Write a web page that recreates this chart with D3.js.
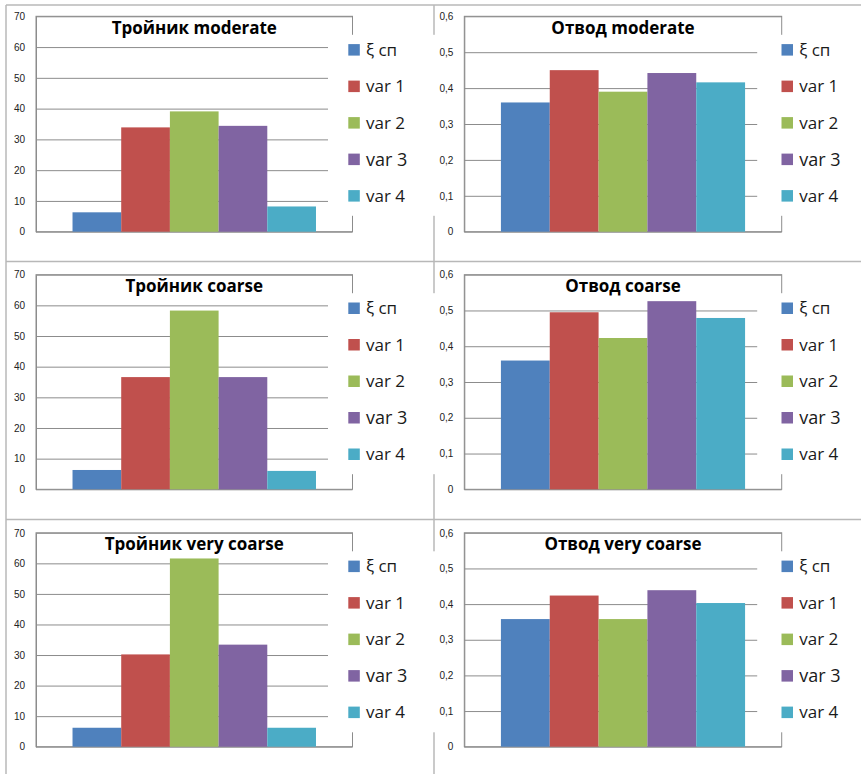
<!DOCTYPE html>
<html>
<head>
<meta charset="utf-8">
<script src="https://cdn.jsdelivr.net/npm/d3@7"></script>
<style>
  html, body { margin: 0; padding: 0; background: #fff; }
  svg { display: block; }
</style>
</head>
<body>
<svg id="chart" width="861" height="774"></svg>
<script>
// ---------- data ----------
const categories = ["ξ сп", "var 1", "var 2", "var 3", "var 4"];
const titles = ["Тройник moderate", "Отвод moderate", "Тройник coarse", "Отвод coarse", "Тройник very coarse", "Отвод very coarse"];
const teeModerate    = [6.3, 33.9, 39.1, 34.4, 8.2];
const bendModerate   = [0.36, 0.45, 0.39, 0.442, 0.416];
const teeCoarse      = [6.3, 36.6, 58.3, 36.6, 6.0];
const bendCoarse     = [0.36, 0.495, 0.423, 0.526, 0.479];
const teeVeryCoarse  = [6.2, 30.2, 61.6, 33.4, 6.2];
const bendVeryCoarse = [0.358, 0.424, 0.358, 0.439, 0.403];
const teeTicks  = [0, 10, 20, 30, 40, 50, 60, 70];
const bendTicks = [0, 0.1, 0.2, 0.3, 0.4, 0.5, 0.6];

// ---------- style ----------
const colors = ["#4F81BD", "#C0504D", "#9BBB59", "#8064A2", "#4BACC6"];
const gridColor = "#8c8c8c";
const frameColor = "#b8b8b8";

const svg = d3.select("#chart");

// cell frame lines
const frame = svg.append("g").attr("stroke", frameColor).attr("stroke-width", 1.5);
[[6, 5, 6, 774], [434, 5, 434, 774], [6, 5, 861, 5], [6, 261.5, 861, 261.5], [6, 519.5, 861, 519.5]]
  .forEach(([x1, y1, x2, y2]) => frame.append("line").attr("x1", x1).attr("y1", y1).attr("x2", x2).attr("y2", y2));

const rows = [{ top: 16.3, bottom: 231.7 }, { top: 274.7, bottom: 489.3 }, { top: 532.8, bottom: 746.7 }];
const cols = [
  { left: 36, right: 352.5, legendX: 348.3, max: 70, ticks: teeTicks, fmt: d => String(d) },
  { left: 464.3, right: 781.7, legendX: 781.5, max: 0.6, ticks: bendTicks, fmt: d => d === 0 ? "0" : d3.format(".1f")(d).replace(".", ",") }
];
const panels = [
  { r: 0, c: 0, values: teeModerate,   title: titles[0] },
  { r: 0, c: 1, values: bendModerate,  title: titles[1] },
  { r: 1, c: 0, values: teeCoarse,     title: titles[2] },
  { r: 1, c: 1, values: bendCoarse,    title: titles[3] },
  { r: 2, c: 0, values: teeVeryCoarse, title: titles[4] },
  { r: 2, c: 1, values: bendVeryCoarse, title: titles[5] }
];

panels.forEach(p => {
  const row = rows[p.r], col = cols[p.c];
  const w = col.right - col.left, h = row.bottom - row.top;
  const g = svg.append("g").attr("transform", `translate(${col.left},${row.top})`);

  const y = d3.scaleLinear().domain([0, col.max]).range([h, 0]);
  const gap = 1.5 / 11.5;
  const x0 = d3.scaleBand().domain(["g"]).range([0, w]).paddingInner(gap).paddingOuter(gap);
  const x1 = d3.scaleBand().domain(categories).range([x0("g"), x0("g") + x0.bandwidth()]).padding(0);

  // plot area border
  g.append("rect").attr("x", 0).attr("y", 0).attr("width", w).attr("height", h)
    .attr("fill", "none").attr("stroke", gridColor).attr("stroke-width", 1);

  // y axis with gridlines
  const axis = d3.axisLeft(y).tickValues(col.ticks).tickFormat(col.fmt)
    .tickSizeInner(-w).tickSizeOuter(0).tickPadding(11);
  const ag = g.append("g").call(axis);
  ag.select(".domain").attr("stroke", gridColor);
  ag.selectAll(".tick line").attr("stroke", gridColor).attr("stroke-width", 1);
  ag.selectAll(".tick text").attr("fill", "#222").attr("font-family", "Liberation Sans, Arial, sans-serif").attr("font-size", 10);

  // bars
  g.append("g").selectAll("rect").data(p.values).join("rect")
    .attr("x", (d, i) => x1(categories[i]))
    .attr("width", x1.bandwidth())
    .attr("y", d => y(d))
    .attr("height", d => h - y(d))
    .attr("fill", (d, i) => colors[i]);

  // title
  g.append("text").attr("x", w / 2).attr("y", 17.2)
    .attr("text-anchor", "middle")
    .attr("font-family", "Open Sans, sans-serif").attr("font-weight", "bold").attr("font-size", 17)
    .attr("fill", "#000").text(p.title);

  // legend
  const ly0 = 33.5, lstep = 36.5;
  const lx = col.legendX - col.left;
  g.append("rect").attr("x", w - 24.5).attr("y", ly0 - 15)
    .attr("width", 110).attr("height", 4 * lstep + 35).attr("fill", "#fff");
  const lg = g.append("g");
  categories.forEach((cName, i) => {
    const cy = ly0 + i * lstep;
    lg.append("rect").attr("x", lx).attr("y", cy - 5.7).attr("width", 11.5).attr("height", 11.5).attr("fill", colors[i]);
    lg.append("text").attr("x", lx + 17.7).attr("y", cy).attr("dy", "0.36em")
      .attr("font-family", "Open Sans, sans-serif").attr("font-size", i === 3 ? 18 : 17).attr("fill", "#1a1a1a")
      .text(cName);
  });
});
</script>
</body>
</html>
